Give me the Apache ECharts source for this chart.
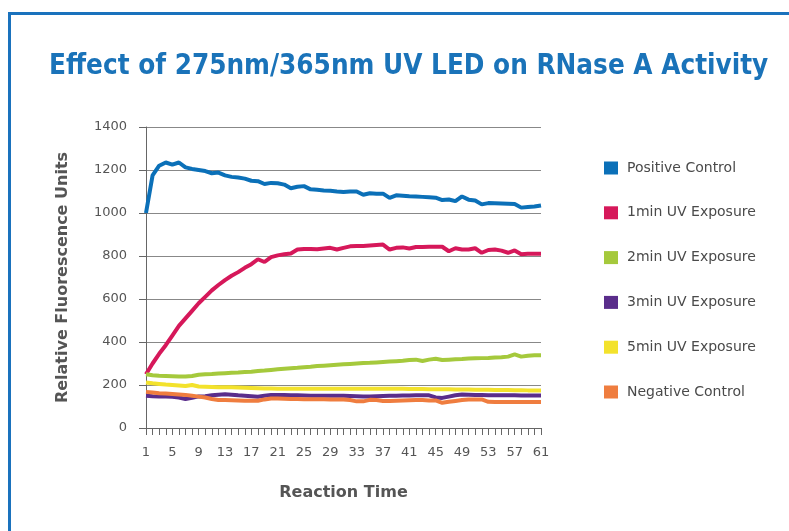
<!DOCTYPE html>
<html>
<head>
<meta charset="utf-8">
<script src="https://cdn.jsdelivr.net/npm/echarts@6/dist/echarts.min.js"></script>
<style>
html,body{margin:0;padding:0;background:#fff;}
#chart{width:789px;height:531px;}
</style>
</head>
<body>
<div id="chart"></div>
<script>
// x轴: 反应时间 1..61
var times = [];
for (var i = 1; i <= 61; i++) { times.push(String(i)); }

var seriesNames = ['Positive Control','1min UV Exposure','2min UV Exposure','3min UV Exposure','5min UV Exposure','Negative Control'];

var positive = [1000,1175,1220,1235,1225,1235,1212,1205,1200,1195,1185,1188,1175,1168,1165,1160,1150,1148,1135,1140,
  1138,1132,1115,1122,1125,1110,1108,1105,1103,1100,1098,1100,1100,1085,1092,1090,1090,1070,1082,1080,
  1078,1077,1075,1073,1071,1060,1063,1055,1077,1062,1058,1040,1046,1045,1044,1043,1042,1025,1028,1030,1035];

var uv1min = [250,300,345,385,430,475,510,545,580,610,640,665,688,708,725,745,762,785,772,795,
  803,808,812,830,832,832,831,835,838,830,838,845,846,847,849,851,853,830,838,840,
  835,842,842,843,843,843,822,836,830,830,836,815,828,830,825,815,826,808,810,810,810];

var uv2min = [250,245,243,242,241,240,239,242,248,250,251,253,255,257,258,260,262,265,267,270,
  273,276,278,280,283,285,288,290,292,294,296,298,300,302,303,305,307,309,311,313,
  316,318,312,318,322,316,318,320,321,323,324,325,326,328,329,332,342,332,336,338,338];

var uv3min = [150,148,147,146,145,142,135,140,147,148,152,155,157,155,152,150,148,145,150,154,
  153,153,152,152,151,150,150,150,150,150,150,149,148,147,147,148,149,150,150,151,
  151,152,152,152,142,140,146,152,156,155,154,153,152,152,152,152,152,151,151,151,151];

var uv5min = [212,208,205,202,200,198,195,200,193,192,191,190,190,189,188,187,186,185,184,184,
  183,183,183,183,183,183,182,182,182,182,182,182,182,182,182,182,182,182,182,182,
  181,181,181,180,180,180,180,179,179,179,178,178,178,177,177,177,176,176,175,175,175];

var negative = [168,165,162,160,158,156,154,150,146,142,135,130,130,129,128,127,127,127,133,137,
  137,136,135,135,134,134,134,134,133,133,133,130,124,124,131,130,126,126,127,128,
  129,130,130,128,128,117,122,126,130,133,133,133,122,121,121,121,121,121,121,121,121];

var seriesData = [positive, uv1min, uv2min, uv3min, uv5min, negative];
var colors = ['#0b70b8','#d6185a','#a5c93c','#5a2d8b','#f3e22c','#ef7d3f'];

var myChart = echarts.init(document.getElementById('chart'));

var series = [];
for (var k = 0; k < seriesNames.length; k++) {
  series.push({
    name: seriesNames[k],
    type: 'line',
    data: seriesData[k],
    showSymbol: false,
    symbol: 'none',
    lineStyle: { width: 4, color: colors[k] },
    itemStyle: { color: colors[k] }
  });
}

var option = {
  animation: false,
  color: colors,
  textStyle: { fontFamily: 'DejaVu Sans' },
  title: {
    text: 'Effect of 275nm/365nm UV LED on RNase A Activity',
    left: 44,
    top: 48,
    textStyle: { color: '#1a73b9', fontSize: 27.6, fontWeight: 'bold', fontFamily: 'DejaVu Sans Condensed' }
  },
  graphic: [{
    type: 'rect',
    shape: { x: 9.5, y: 13.5, width: 820, height: 600 },
    style: { fill: 'none', stroke: '#1a72bd', lineWidth: 3 },
    silent: true
  }],
  legend: {
    orient: 'vertical',
    left: 599,
    top: 156,
    icon: 'rect',
    itemWidth: 14,
    itemHeight: 13,
    itemGap: 30.8,
    textStyle: { color: '#4a4a4a', fontSize: 14, padding: [0, 0, 0, 4] },
    data: seriesNames
  },
  grid: { left: 146, right: 248, top: 127, bottom: 103, containLabel: false },
  xAxis: {
    type: 'category',
    data: times,
    boundaryGap: false,
    name: 'Reaction Time',
    nameLocation: 'middle',
    nameGap: 57,
    nameTextStyle: { color: '#555', fontSize: 16, fontWeight: 'bold' },
    axisLine: { lineStyle: { color: '#666', width: 1 } },
    axisTick: { show: true, interval: 0, length: 7, lineStyle: { color: '#666' } },
    axisLabel: { interval: 3, color: '#555', fontSize: 13, margin: 18 },
    splitLine: { show: false }
  },
  yAxis: {
    type: 'value',
    min: 0,
    max: 1400,
    interval: 200,
    name: 'Relative Fluorescence Units',
    nameLocation: 'middle',
    nameGap: 75,
    nameTextStyle: { color: '#555', fontSize: 16, fontWeight: 'bold' },
    axisLine: { show: true, lineStyle: { color: '#666', width: 1 } },
    axisTick: { show: true, length: 7, lineStyle: { color: '#666' } },
    axisLabel: { color: '#555', fontSize: 13, margin: 19, formatter: function (v) { return String(v); } },
    splitLine: { lineStyle: { color: '#888', width: 1 } }
  },
  series: series
};

myChart.setOption(option);
</script>
</body>
</html>
